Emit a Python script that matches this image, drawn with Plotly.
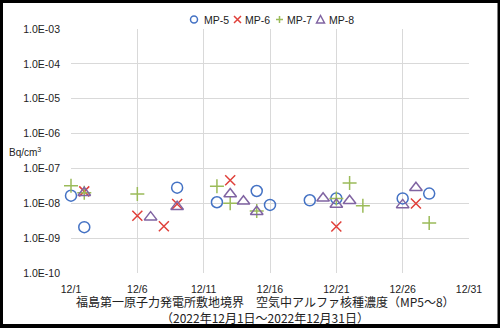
import plotly.graph_objects as go

# ---- data ----
mp5_days = [1, 2, 9, 12, 15, 16, 19, 21, 26, 28]
mp5_vals = [1.65e-8, 2.06e-9, 2.8e-8, 1.07e-8, 2.25e-8, 9.0e-9, 1.22e-8, 1.38e-8, 1.38e-8, 1.9e-8]

mp6_days = [2, 6, 8, 9, 13, 21, 27]
mp6_vals = [2.2e-8, 4.4e-9, 2.2e-9, 9.5e-9, 4.6e-8, 2.15e-9, 9.8e-9]

mp7_days = [1, 2, 6, 12, 13, 15, 21, 22, 23, 28]
mp7_vals = [3.2e-8, 2.0e-8, 1.85e-8, 3.1e-8, 1.0e-8, 6.0e-9, 1.38e-8, 3.8e-8, 8.5e-9, 2.7e-9]

mp8_days = [2, 7, 9, 13, 14, 15, 20, 21, 22, 26, 27]
mp8_vals = [2.0e-8, 4.0e-9, 8.0e-9, 1.85e-8, 1.15e-8, 5.7e-9, 1.4e-8, 9.2e-9, 1.18e-8, 9.0e-9, 2.8e-8]

series_names = ["MP-5", "MP-6", "MP-7", "MP-8"]

tick_days = [1, 6, 11, 16, 21, 26, 31]
tick_labels = ["12/1", "12/6", "12/11", "12/16", "12/21", "12/26", "12/31"]
y_tickvals = [1e-3, 1e-4, 1e-5, 1e-6, 1e-7, 1e-8, 1e-9, 1e-10]
y_ticklabels = ["1.0E-03", "1.0E-04", "1.0E-05", "1.0E-06", "1.0E-07", "1.0E-08", "1.0E-09", "1.0E-10"]

W, H = 500, 328
ML, MR, MT, MB = 71, 31, 29, 55
PW, PH = W - ML - MR, H - MT - MB

def px(x):
    return (x - ML) / PW

def py(y):
    return (H - MB - y) / PH

latin = "Liberation Sans, Arial, sans-serif"
tickfont = dict(family=latin, size=10.5, color="#222222")
cjk = "Noto Sans CJK JP, sans-serif"

styles = [
    ("circle-open", "#4472C4", 11),
    ("x-thin-open", "#E0403A", 10),
    ("cross-thin-open", "#9BBB59", 10),
    ("triangle-up-open", "#8064A2", 11),
]
data = [(mp5_days, mp5_vals), (mp6_days, mp6_vals), (mp7_days, mp7_vals), (mp8_days, mp8_vals)]

fig = go.Figure()
for name, (d, v), (sym, col, sz) in zip(series_names, data, styles):
    fig.add_trace(go.Scatter(
        x=d, y=v, mode="markers", name=name, cliponaxis=False, showlegend=False,
        marker=dict(symbol=sym, size=sz, color=col, line=dict(color=col, width=1.5)),
    ))

# compact legend drawn as shapes + text (Excel style)
leg_sym_x = [194, 237.5, 279.5, 320.5]
leg_txt_x = [201.5, 243, 285, 326.5]
leg_y = 19.5
r = 3.5

def pt(x, y):
    return f"{px(x)},{py(y)}"

for name, (sym, col, sz), sx, tx in zip(series_names, styles, leg_sym_x, leg_txt_x):
    line = dict(color=col, width=1.5)
    if sym.startswith("circle"):
        fig.add_shape(type="circle", xref="paper", yref="paper",
                      x0=px(sx - r), x1=px(sx + r), y0=py(leg_y + r), y1=py(leg_y - r), line=line)
    elif sym.startswith("x"):
        path = (f"M{pt(sx-r, leg_y-r)} L{pt(sx+r, leg_y+r)} "
                f"M{pt(sx-r, leg_y+r)} L{pt(sx+r, leg_y-r)}")
        fig.add_shape(type="path", xref="paper", yref="paper", path=path, line=line)
    elif sym.startswith("cross"):
        path = (f"M{pt(sx-r, leg_y)} L{pt(sx+r, leg_y)} "
                f"M{pt(sx, leg_y-r)} L{pt(sx, leg_y+r)}")
        fig.add_shape(type="path", xref="paper", yref="paper", path=path, line=line)
    else:
        path = f"M{pt(sx-r-0.5, leg_y+r)} L{pt(sx, leg_y-r-0.5)} L{pt(sx+r+0.5, leg_y+r)} Z"
        fig.add_shape(type="path", xref="paper", yref="paper", path=path, line=line)
    fig.add_annotation(xref="paper", yref="paper", x=px(tx), y=py(leg_y), text=name,
                       showarrow=False, xanchor="left", yanchor="middle",
                       font=dict(family=latin, size=10.5, color="#222222"))

fig.update_layout(
    width=W, height=H,
    margin=dict(l=ML, r=MR, t=MT, b=MB, pad=0),
    paper_bgcolor="white", plot_bgcolor="white",
    showlegend=False,
    xaxis=dict(range=[1, 31], tickmode="array", tickvals=tick_days, ticktext=tick_labels,
               showgrid=True, gridcolor="#D9D9D9", gridwidth=1, zeroline=False,
               showline=False, ticks="", tickfont=tickfont, ticklabelstandoff=8),
    yaxis=dict(type="log", range=[-10, -3], tickmode="array", tickvals=y_tickvals,
               ticktext=y_ticklabels, showgrid=True, gridcolor="#D9D9D9", gridwidth=1,
               zeroline=False, showline=False, ticks="", tickfont=tickfont, ticklabelstandoff=10),
)

annos = [
    dict(x=px(25), y=py(152), text="Bq/cm<sup>3</sup>", xanchor="center", yanchor="middle",
         font=dict(family=latin, size=10, color="#222222")),
    dict(x=px(265), y=py(301), text="福島第一原子力発電所敷地境界　空気中アルファ核種濃度（MP5～8）",
         xanchor="center", yanchor="middle", font=dict(family=cjk, size=12, color="#222222")),
    dict(x=px(265), y=py(317), text="（2022年12月1日～2022年12月31日）",
         xanchor="center", yanchor="middle", font=dict(family=cjk, size=12, color="#222222")),
]
for a in annos:
    fig.add_annotation(xref="paper", yref="paper", showarrow=False, **a)

# outer black frame
frame = [(0, 0, 3, H), (0, 0, W, 3), (497.5, 0, W, H), (0, 324, W, H)]
for x0, y0, x1, y1 in frame:
    fig.add_shape(type="rect", xref="paper", yref="paper", x0=px(x0), x1=px(x1),
                  y0=py(y1), y1=py(y0), fillcolor="black", line=dict(width=0), layer="above")

fig.write_html("out.html")
